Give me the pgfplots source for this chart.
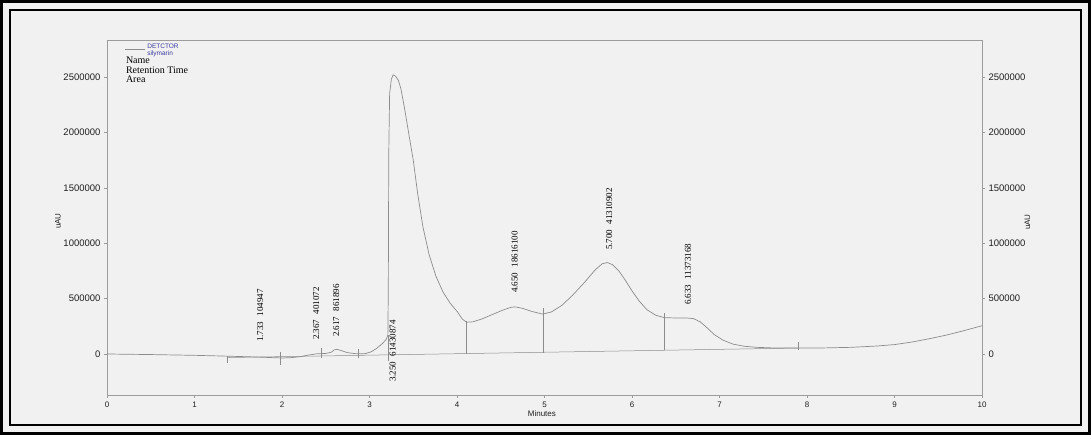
\documentclass[border=0pt]{standalone}
\usepackage{pgfplots}
\pgfplotsset{compat=1.18}
\usepackage{fontspec}
\setmainfont{Liberation Sans}
\newfontfamily\timesf{Liberation Serif}
\definecolor{paper}{HTML}{F1F1F1}
\definecolor{curvec}{HTML}{8C8C8C}
\definecolor{axgray}{HTML}{9C9C9C}
\definecolor{legblue}{HTML}{3B3B9E}
\definecolor{txt}{HTML}{202020}

\pgfplotstableread{
x y
0 0
0.5 -5000
1.0 -12000
1.4 -20000
1.7 -27000
2.0 -36000
2.1 -33000
2.2 -25000
2.3 -10000
2.4 2000
2.5 5000
2.56 15000
2.6 38000
2.63 42000
2.68 30000
2.75 12000
2.85 2000
2.95 3000
3.02 20000
3.08 50000
3.14 90000
3.19 130000
3.21 170000
3.215 600000
3.22 1800000
3.23 2350000
3.25 2480000
3.27 2520000
3.30 2505000
3.33 2470000
3.36 2390000
3.40 2220000
3.44 2030000
3.50 1750000
3.55 1450000
3.61 1150000
3.68 900000
3.76 700000
3.84 560000
3.92 460000
4.01 375000
4.06 315000
4.11 287000
4.18 290000
4.28 315000
4.40 355000
4.52 395000
4.62 422000
4.67 425000
4.75 412000
4.85 385000
4.98 360000
5.08 380000
5.20 440000
5.32 530000
5.45 640000
5.58 760000
5.66 815000
5.72 825000
5.78 805000
5.85 750000
5.92 670000
6.00 570000
6.08 480000
6.17 400000
6.27 350000
6.37 328000
6.50 325000
6.62 325000
6.70 320000
6.78 290000
6.86 235000
6.94 175000
7.04 125000
7.15 90000
7.28 70000
7.43 60000
7.60 55000
7.90 54000
8.20 55000
8.50 60000
8.80 72000
9.00 85000
9.20 108000
9.40 138000
9.60 172000
9.80 212000
10.00 255000
}\chrom

\begin{document}
\begin{tikzpicture}
% paper and frame
\fill[paper] (-107pt,-40pt) rectangle (984pt,395pt);
\draw[black, line width=3pt] (-105.5pt,-38.5pt) rectangle (982.5pt,393.5pt);
\draw[black, line width=2pt] (-97pt,-30pt) rectangle (974pt,385pt);

\pgfplotsset{
  common/.style={
    at={(0pt,0pt)}, anchor=south west,
    width=875pt, height=355pt, scale only axis,
    xmin=0, xmax=10, ymin=-370000, ymax=2834000,
    axis line style={axgray, line width=0.6pt},
    tick style={axgray, line width=0.5pt},
    tick align=outside, major tick length=3pt,
    ytick={0,500000,1000000,1500000,2000000,2500000},
    scaled y ticks=false,
    /pgf/number format/assume math mode=true,
    yticklabel style={/pgf/number format/fixed, /pgf/number format/1000 sep={},
      font=\fontsize{9.5}{10}\selectfont, text=txt},
    xticklabel style={font=\fontsize{8}{9}\selectfont, text=txt},
    label style={font=\fontsize{8}{9}\selectfont, text=txt},
  }
}

\begin{axis}[common,
  xtick={0,1,...,10}, xtick pos=bottom, ytick pos=left,
  xlabel={Minutes},
  xlabel style={at={(axis description cs:0.497,-0.052)}, anchor=center},
  ylabel={uAU},
  ylabel style={at={(axis description cs:-0.056,0.49)}, anchor=center},
  legend style={at={(axis description cs:0.019,0.997)}, anchor=north west,
    draw=none, fill=none, font=\fontsize{6.5}{6.5}\selectfont\color{legblue},
    inner sep=1pt, row sep=0pt},
  legend cell align=left,
  legend image code/.code={\draw[curvec, line width=0.5pt] (0pt,0pt)--(20pt,0pt);},
]
\addplot[curvec, line width=0.7pt] table[x=x, y=y] {\chrom};
\addlegendentry{\begin{tabular}{@{}l@{}}DETCTOR\\[-0.3pt]silymarin\end{tabular}}

% integration baseline
\addplot[curvec, line width=0.5pt, forget plot] coordinates {(1.37,-32000) (7.90,54000)};
% peak start / end marks
\addplot[curvec, line width=0.5pt, forget plot] coordinates {(1.37,-80000) (1.37,-20000)};
\addplot[curvec, line width=0.5pt, forget plot] coordinates {(1.98,-100000) (1.98,18000)};
\addplot[curvec, line width=0.5pt, forget plot] coordinates {(2.45,-40000) (2.45,55000)};
\addplot[curvec, line width=0.5pt, forget plot] coordinates {(2.87,-40000) (2.87,45000)};
\addplot[curvec, line width=0.5pt, forget plot] coordinates {(3.213,-60000) (3.213,170000)};
\addplot[curvec, line width=0.5pt, forget plot] coordinates {(4.11,0) (4.11,300000)};
\addplot[curvec, line width=0.5pt, forget plot] coordinates {(4.98,10000) (4.98,415000)};
\addplot[curvec, line width=0.5pt, forget plot] coordinates {(6.37,40000) (6.37,370000)};
\addplot[curvec, line width=0.5pt, forget plot] coordinates {(7.90,36000) (7.90,110000)};

% header text
\node[anchor=north west, align=left, inner sep=0pt, text=black,
  font=\timesf\fontsize{10}{9.6}\selectfont]
  at (axis description cs:0.0215,0.953) {Name\\Retention Time\\Area};

% peak annotations
\begin{scope}[every node/.style={rotate=90, anchor=west, inner sep=0pt, text=black,
  font=\timesf\fontsize{9}{9}\selectfont}]
\node at (axis cs:1.75,108000) {1.733\hspace{0.6em}104947};
\node at (axis cs:2.39,126000) {2.367\hspace{0.6em}401072};
\node at (axis cs:2.62,153000) {2.617\hspace{0.6em}861896};
\node at (axis cs:3.265,-253000) {3.250\hspace{0.6em}61430874};
\node at (axis cs:4.66,550000) {4.650\hspace{0.6em}18616100};
\node at (axis cs:5.74,939000) {5.700\hspace{0.6em}41310902};
\node at (axis cs:6.64,442000) {6.633\hspace{0.6em}11373168};
\end{scope}
\end{axis}

\begin{axis}[common,
  axis x line=none, axis y line*=right,
  ylabel={uAU},
  ylabel style={at={(axis description cs:1.052,0.487)}, anchor=center},
]
\addplot[draw=none] coordinates {(0,0) (10,0)};
\end{axis}

\pgfresetboundingbox
\useasboundingbox (-107pt,-40pt) rectangle (984pt,395pt);
\end{tikzpicture}
\end{document}
